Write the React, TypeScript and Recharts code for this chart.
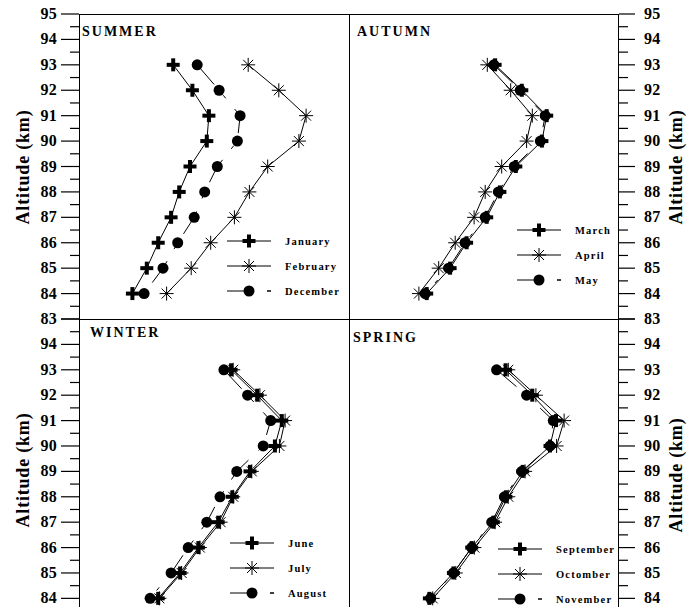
import React from 'react';
import { LineChart, Line, XAxis, YAxis, Legend } from 'recharts';

// altitude levels (km) and profile values (no x-axis in the original, read as K-like units)
const altitudes = [93, 92, 91, 90, 89, 88, 87, 86, 85, 84];

const january = [171.4, 177.8, 183.3, 182.6, 177.0, 173.4, 170.7, 166.4, 162.6, 157.8];
const february = [196.4, 206.6, 215.7, 213.3, 202.9, 196.8, 191.8, 183.9, 177.4, 169.2];
const december = [179.4, 186.7, 193.7, 192.8, 186.1, 181.9, 178.4, 172.9, 168.0, 161.7];

const march = [188.7, 197.6, 205.9, 204.3, 195.6, 190.3, 185.9, 179.2, 173.7, 165.9];
const april = [186.1, 193.9, 201.1, 199.2, 190.9, 185.4, 181.7, 175.4, 169.9, 163.3];
const may = [188.3, 197.1, 205.4, 203.8, 195.1, 189.8, 185.4, 178.7, 173.2, 165.4];

const june = [190.7, 199.4, 207.6, 205.3, 197.0, 191.1, 186.4, 179.8, 173.7, 166.4];
const july = [191.4, 200.3, 208.7, 206.8, 197.6, 191.4, 187.2, 180.3, 174.2, 166.8];
const august = [188.3, 196.2, 203.9, 201.4, 192.6, 187.0, 182.6, 176.4, 170.7, 163.7];

const september = [192.2, 201.1, 209.0, 207.0, 197.9, 192.3, 188.1, 180.9, 174.8, 166.8];
const octomber = [193.1, 202.3, 211.7, 209.2, 198.7, 193.1, 188.7, 181.8, 175.6, 167.9];
const november = [189.2, 199.2, 208.1, 207.0, 197.6, 191.8, 187.6, 180.9, 174.8, 167.2];

const topTicks = [83, 83.5, 84, 84.5, 85, 85.5, 86, 86.5, 87, 87.5, 88, 88.5, 89, 89.5, 90, 90.5, 91, 91.5, 92, 92.5, 93, 93.5, 94, 94.5, 95];
const bottomTicks = [84, 84.5, 85, 85.5, 86, 86.5, 87, 87.5, 88, 88.5, 89, 89.5, 90, 90.5, 91, 91.5, 92, 92.5, 93, 93.5, 94, 94.5, 95];
const bottomHiddenLabels = [95];

const FONT = '"Liberation Serif", "Times New Roman", serif';

type Kind = 'plus' | 'star' | 'dot';

function Marker({ kind, cx, cy }: { kind: Kind; cx: number; cy: number }) {
  if (cx == null || cy == null) return null;
  if (kind === 'plus') {
    return (
      <g stroke="#000" strokeWidth={4}>
        <line x1={cx - 6.5} x2={cx + 6.5} y1={cy} y2={cy} />
        <line x1={cx} x2={cx} y1={cy - 6.5} y2={cy + 6.5} />
      </g>
    );
  }
  if (kind === 'star') {
    const r = 7;
    const d = 5;
    return (
      <g stroke="#000" strokeWidth={1}>
        <line x1={cx - r} x2={cx + r} y1={cy} y2={cy} />
        <line x1={cx} x2={cx} y1={cy - r} y2={cy + r} />
        <line x1={cx - d} x2={cx + d} y1={cy - d} y2={cy + d} />
        <line x1={cx - d} x2={cx + d} y1={cy + d} y2={cy - d} />
      </g>
    );
  }
  return <circle cx={cx} cy={cy} r={5.5} fill="#000" />;
}

function AxisTick(props: any) {
  const { x, y, payload, side, hidden } = props;
  const v = payload.value;
  const major = Math.abs(v - Math.round(v)) < 0.01;
  const dir = side === 'left' ? -1 : 1;
  const len = major ? (side === 'left' ? 18 : 16) : 9;
  const showLabel = major && !(hidden || []).includes(v);
  return (
    <g>
      <line x1={x} x2={x + dir * len} y1={y} y2={y} stroke="#000" strokeWidth={1.2} />
      {showLabel && (
        <text
          x={side === 'left' ? x - 22 : x + 25}
          y={y + 5}
          textAnchor={side === 'left' ? 'end' : 'start'}
          fontFamily={FONT}
          fontWeight="bold"
          fontSize={16}
          letterSpacing={0.3}
          fill="#000"
        >
          {v}
        </text>
      )}
    </g>
  );
}

type Series = { name: string; values: number[]; kind: Kind };

function LegendBox({ series }: { series: Series[] }) {
  return (
    <svg width={140} height={72} style={{ display: 'block', overflow: 'visible' }}>
      {series.map((s, i) => {
        const y = 10 + i * 25;
        return (
          <g key={s.name}>
            {s.kind === 'dot' ? (
              <g stroke="#000" strokeWidth={1}>
                <line x1={0} x2={22} y1={y} y2={y} />
                <line x1={40} x2={44} y1={y} y2={y} strokeWidth={1.5} />
              </g>
            ) : (
              <line x1={0} x2={44} y1={y} y2={y} stroke="#000" strokeWidth={1} />
            )}
            <Marker kind={s.kind} cx={22} cy={y} />
            <text x={58} y={y + 4} fontFamily={FONT} fontWeight="bold" fontSize={10.5} letterSpacing={1.2} fill="#000">
              {s.name}
            </text>
          </g>
        );
      })}
    </svg>
  );
}

type PanelProps = {
  series: Series[];
  side: 'left' | 'right';
  top: boolean;
  legendLeft: number;
  legendTop: number;
};

function Panel({ series, side, top, legendLeft, legendTop }: PanelProps) {
  const rows = altitudes.map((alt, i) => {
    const row: Record<string, number> = { alt };
    series.forEach((s) => {
      row[s.name] = s.values[i];
    });
    return row;
  });
  const width = side === 'left' ? 349 : 345;
  const axisWidth = side === 'left' ? 79 : 75;
  return (
    <LineChart
      layout="vertical"
      width={width}
      height={top ? 330 : 302}
      data={rows}
      margin={{ top: 14, right: 0, bottom: top ? 11 : 0, left: 0 }}
    >
      <XAxis type="number" domain={[140, 230]} hide allowDataOverflow />
      <YAxis
        type="number"
        dataKey="alt"
        orientation={side}
        width={axisWidth}
        reversed
        domain={top ? [83, 95] : [83.66, 95]}
        ticks={top ? topTicks : bottomTicks}
        interval={0}
        allowDataOverflow
        axisLine={false}
        tickLine={false}
        tickSize={0}
        tickMargin={0}
        tick={(p: any) => <AxisTick {...p} side={side} hidden={top ? [] : bottomHiddenLabels} />}
      />
      {series.map((s) => (
        <Line
          key={s.name}
          dataKey={s.name}
          stroke="#000"
          strokeWidth={1}
          strokeDasharray={s.kind === 'dot' ? '26 14 4 14' : undefined}
          isAnimationActive={false}
          dot={(p: any) => <Marker key={`${s.name}-${p.index}`} kind={s.kind} cx={p.cx} cy={p.cy} />}
          activeDot={false}
        />
      ))}
      <Legend
        layout="vertical"
        align="center"
        verticalAlign="middle"
        wrapperStyle={{ left: legendLeft, top: legendTop, width: 140 }}
        content={() => <LegendBox series={series} />}
      />
    </LineChart>
  );
}

const summer: Series[] = [
  { name: 'January', values: january, kind: 'plus' },
  { name: 'February', values: february, kind: 'star' },
  { name: 'December', values: december, kind: 'dot' },
];
const autumn: Series[] = [
  { name: 'March', values: march, kind: 'plus' },
  { name: 'April', values: april, kind: 'star' },
  { name: 'May', values: may, kind: 'dot' },
];
const winter: Series[] = [
  { name: 'June', values: june, kind: 'plus' },
  { name: 'July', values: july, kind: 'star' },
  { name: 'August', values: august, kind: 'dot' },
];
const spring: Series[] = [
  { name: 'September', values: september, kind: 'plus' },
  { name: 'Octomber', values: octomber, kind: 'star' },
  { name: 'November', values: november, kind: 'dot' },
];

const titleStyle = { fontFamily: FONT, fontWeight: 'bold' as const, fill: '#000' };

export default function App() {
  const line = '1.3px solid #000';
  return (
    <div style={{ position: 'absolute', left: 0, top: 0, width: 694, height: 607, overflow: 'hidden', background: '#fff' }}>
      <div style={{ position: 'absolute', left: 0, top: 0 }}>
        <Panel series={summer} side="left" top legendLeft={227} legendTop={231} />
      </div>
      <div style={{ position: 'absolute', left: 349, top: 0 }}>
        <Panel series={autumn} side="right" top legendLeft={168} legendTop={220} />
      </div>
      <div style={{ position: 'absolute', left: 0, top: 305 }}>
        <Panel series={winter} side="left" top={false} legendLeft={230} legendTop={228} />
      </div>
      <div style={{ position: 'absolute', left: 349, top: 305 }}>
        <Panel series={spring} side="right" top={false} legendLeft={149} legendTop={234} />
      </div>

      {/* panel frame */}
      <div style={{ position: 'absolute', left: 79, top: 14, width: 540, height: 600, borderTop: line, borderLeft: line, borderRight: line, boxSizing: 'border-box', pointerEvents: 'none' }} />
      <div style={{ position: 'absolute', left: 348.5, top: 14, width: 0, height: 600, borderLeft: line, pointerEvents: 'none' }} />
      <div style={{ position: 'absolute', left: 79, top: 318.5, width: 540, height: 0, borderTop: line, pointerEvents: 'none' }} />

      <svg width={694} height={607} style={{ position: 'absolute', left: 0, top: 0, pointerEvents: 'none' }}>
        <text x={82} y={36} fontSize={14} letterSpacing={2} {...titleStyle}>SUMMER</text>
        <text x={357} y={36} fontSize={14} letterSpacing={2} {...titleStyle}>AUTUMN</text>
        <text x={90} y={337} fontSize={14} letterSpacing={2} {...titleStyle}>WINTER</text>
        <text x={353} y={342} fontSize={14} letterSpacing={2} {...titleStyle}>SPRING</text>
        <text transform="translate(29,167) rotate(-90)" textAnchor="middle" fontSize={18} letterSpacing={0.8} {...titleStyle}>Altitude (km)</text>
        <text transform="translate(29,470) rotate(-90)" textAnchor="middle" fontSize={18} letterSpacing={0.8} {...titleStyle}>Altitude (km)</text>
        <text transform="translate(682,167) rotate(-90)" textAnchor="middle" fontSize={18} letterSpacing={0.8} {...titleStyle}>Altitude (km)</text>
        <text transform="translate(682,475) rotate(-90)" textAnchor="middle" fontSize={18} letterSpacing={0.8} {...titleStyle}>Altitude (km)</text>
      </svg>
    </div>
  );
}
